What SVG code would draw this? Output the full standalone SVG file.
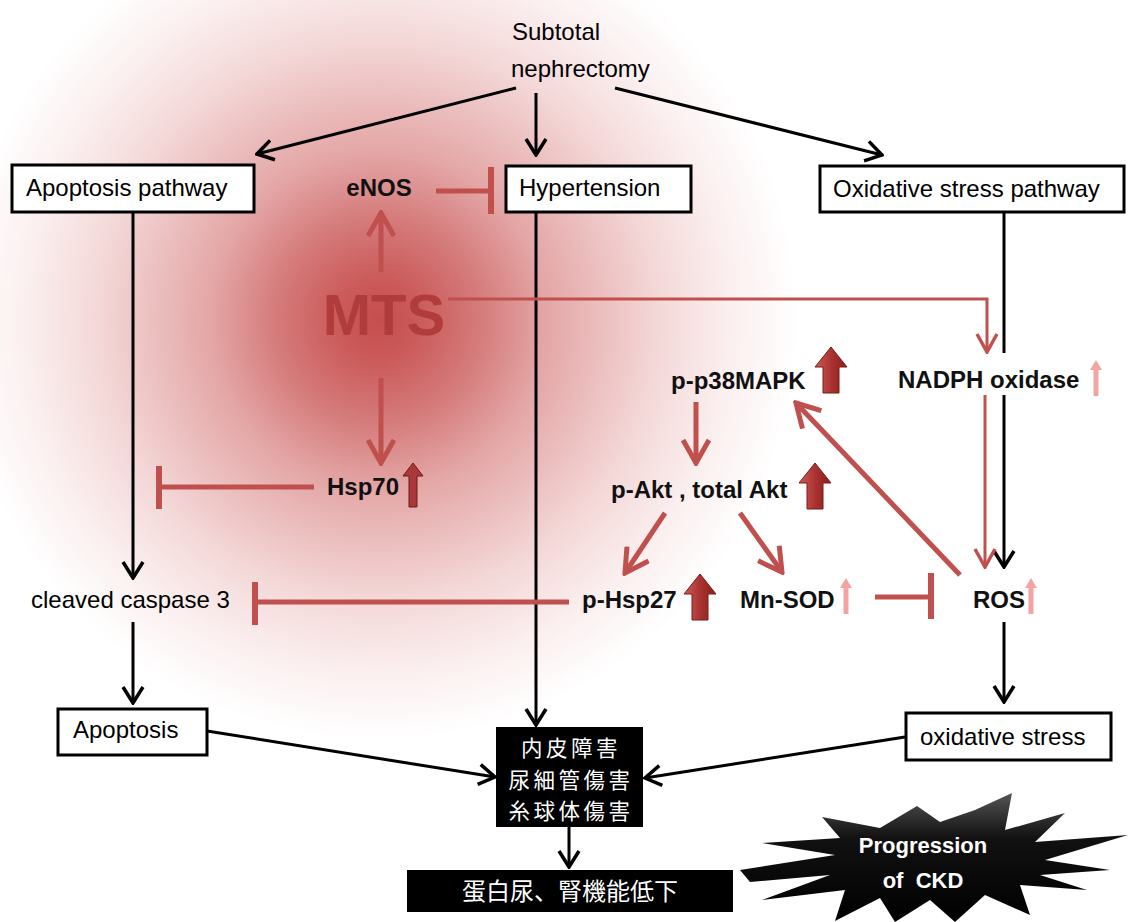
<svg xmlns="http://www.w3.org/2000/svg" width="1130" height="922" viewBox="0 0 1130 922">
  <style>
    .lbl { font-family: "Liberation Sans", Arial, sans-serif; font-size: 24px; fill: #000; }
    .bold { font-family: "Liberation Sans", Arial, sans-serif; font-size: 24px; font-weight: bold; fill: #111; }
    .box { fill: #fff; stroke: #000; stroke-width: 3; }
    .blk { fill: #000; }
    .cjk { font-family: "Noto Sans CJK JP", "Noto Sans CJK SC", sans-serif; font-size: 21.5px; letter-spacing: 3.5px; fill: #fff; text-anchor: middle; }
    .ca { stroke: #000; stroke-width: 3; fill: none; marker-end: url(#ah); }
    .ra { stroke: #c0504d; stroke-width: 5; fill: none; marker-end: url(#rh); }
    .rt { stroke: #c0504d; stroke-width: 3; fill: none; }
    .ri { stroke: #c0504d; stroke-width: 5; fill: none; }
    .bar { stroke: #c0504d; stroke-width: 6; fill: none; }
  </style>
  <defs>
    <radialGradient id="glow" gradientUnits="userSpaceOnUse" cx="378" cy="320" r="420">
      <stop offset="0" stop-color="#c64e4e"/>
      <stop offset="0.095" stop-color="#cb5a5a"/>
      <stop offset="0.24" stop-color="#d57a7a"/>
      <stop offset="0.4" stop-color="#e4a6a6"/>
      <stop offset="0.67" stop-color="#f4d8d8"/>
      <stop offset="0.84" stop-color="#fbefef"/>
      <stop offset="1" stop-color="#ffffff"/>
    </radialGradient>
    <linearGradient id="blockfill" x1="0" y1="0" x2="1" y2="0">
      <stop offset="0" stop-color="#cf5c5a"/>
      <stop offset="0.5" stop-color="#a93330"/>
      <stop offset="1" stop-color="#8a1e1c"/>
    </linearGradient>
    <linearGradient id="starfill" x1="0" y1="0" x2="0" y2="1">
      <stop offset="0" stop-color="#555"/>
      <stop offset="0.35" stop-color="#111"/>
      <stop offset="1" stop-color="#000"/>
    </linearGradient>
    <marker id="ah" markerUnits="userSpaceOnUse" viewBox="0 0 20 24" markerWidth="20" markerHeight="24" refX="18" refY="12" orient="auto">
      <path d="M2,2 L18,12 L2,22" fill="none" stroke="#000" stroke-width="3.5"/>
    </marker>
    <marker id="rh" markerUnits="userSpaceOnUse" viewBox="0 0 28 30" markerWidth="28" markerHeight="30" refX="25" refY="15" orient="auto">
      <path d="M2,2 L25,15 L2,28" fill="none" stroke="#c0504d" stroke-width="5"/>
    </marker>
    <marker id="rht" markerUnits="userSpaceOnUse" viewBox="0 0 22 24" markerWidth="22" markerHeight="24" refX="20" refY="12" orient="auto">
      <path d="M2,2 L20,12 L2,22" fill="none" stroke="#c0504d" stroke-width="3.5"/>
    </marker>
    <path id="block" d="M0,0 L16,20 L8,20 L8,46 L-8,46 L-8,20 L-16,20 Z" fill="url(#blockfill)" stroke="#7a1a18" stroke-width="1"/>
    <path id="pink" d="M0,0 L6,10 L2.5,10 L2.5,36 L-2.5,36 L-2.5,10 L-6,10 Z" fill="#f4a3a3"/>
    <path id="thin" d="M0,0 L10,13 L4,13 L4,44 L-4,44 L-4,13 L-10,13 Z" fill="#a8383a" stroke="#6e1a1a" stroke-width="1"/>
  </defs>

  <rect width="1130" height="922" fill="#fff"/>
  <circle cx="378" cy="320" r="420" fill="url(#glow)"/>

  <g id="connectors">
    <!-- black -->
    <line class="ca" x1="516" y1="88" x2="257" y2="154"/>
    <line class="ca" x1="536" y1="93" x2="536" y2="155"/>
    <line class="ca" x1="615" y1="88" x2="882" y2="155"/>
    <line class="ca" x1="133" y1="212" x2="133" y2="578"/>
    <line class="ca" x1="133" y1="622" x2="133" y2="703"/>
    <line class="ca" x1="536" y1="212" x2="536" y2="725"/>
    <line stroke="#000" stroke-width="3" x1="1004" y1="212" x2="1004" y2="353"/>
    <line class="ca" x1="1004" y1="395" x2="1004" y2="567"/>
    <line class="ca" x1="1004" y1="622" x2="1004" y2="702"/>
    <line class="ca" x1="207" y1="731" x2="495" y2="777"/>
    <line class="ca" x1="905" y1="737" x2="645" y2="778"/>
    <line class="ca" x1="569" y1="827" x2="569" y2="867"/>
    <!-- red activation -->
    <line class="ra" x1="381" y1="272" x2="381" y2="213"/>
    <line class="ra" x1="381" y1="378" x2="381" y2="463"/>
    <polyline class="rt" points="448,299 987,299 987,352" marker-end="url(#rht)"/>
    <line class="rt" x1="985" y1="395" x2="985" y2="567" marker-end="url(#rht)"/>
    <line class="ra" x1="696" y1="402" x2="696" y2="463"/>
    <line class="ra" x1="665" y1="513" x2="625" y2="573"/>
    <line class="ra" x1="740" y1="513" x2="782" y2="572"/>
    <line class="ra" x1="960" y1="575" x2="796" y2="403"/>
    <!-- red inhibition -->
    <line class="ri" x1="436" y1="191" x2="489" y2="191"/>
    <line class="bar" x1="491" y1="167" x2="491" y2="214"/>
    <line class="ri" x1="314" y1="487" x2="161" y2="487"/>
    <line class="bar" x1="159" y1="466" x2="159" y2="509"/>
    <line class="ri" x1="569" y1="602" x2="257" y2="602"/>
    <line class="bar" x1="255" y1="582" x2="255" y2="625"/>
    <line class="ri" x1="875" y1="597" x2="929" y2="597"/>
    <line class="bar" x1="931" y1="573" x2="931" y2="619"/>
  </g>

  <g id="subtotal-nephrectomy">
    <text class="lbl" x="512" y="40" font-size="26">Subtotal</text>
    <text class="lbl" x="511" y="77" font-size="25">nephrectomy</text>
  </g>
  <g id="apoptosis-pathway">
    <rect class="box" x="12" y="165" width="242" height="47"/>
    <text class="lbl" x="26" y="196">Apoptosis pathway</text>
  </g>
  <g id="hypertension">
    <rect class="box" x="506" y="166" width="185" height="46"/>
    <text class="lbl" x="519" y="196">Hypertension</text>
  </g>
  <g id="oxidative-stress-pathway">
    <rect class="box" x="820" y="166" width="304" height="46"/>
    <text class="lbl" x="833" y="197" font-size="24.5">Oxidative stress pathway</text>
  </g>
  <g id="enos">
    <text class="bold" x="379" y="196" text-anchor="middle" font-size="23">eNOS</text>
  </g>
  <g id="mts">
    <text x="384" y="335" text-anchor="middle" font-family="Liberation Sans, Arial, sans-serif" font-size="58" font-weight="bold" fill="#b03c3c">MTS</text>
  </g>
  <g id="hsp70">
    <text class="bold" x="327" y="495" font-size="22">Hsp70</text>
    <use href="#thin" x="413" y="463"/>
  </g>
  <g id="cleaved-caspase-3">
    <text class="lbl" x="31" y="608">cleaved caspase 3</text>
  </g>
  <g id="p-p38mapk">
    <text class="bold" x="671" y="389" font-size="23.5">p-p38MAPK</text>
    <use href="#block" x="831" y="347"/>
  </g>
  <g id="nadph-oxidase">
    <text class="bold" x="898" y="388">NADPH oxidase</text>
    <use href="#pink" x="1096" y="360"/>
  </g>
  <g id="p-akt">
    <text class="bold" x="611" y="498">p-Akt , total Akt</text>
    <use href="#block" x="815" y="463"/>
  </g>
  <g id="p-hsp27">
    <text class="bold" x="582" y="608" font-size="23">p-Hsp27</text>
    <use href="#block" x="700" y="574"/>
  </g>
  <g id="mn-sod">
    <text class="bold" x="740" y="608" font-size="23">Mn-SOD</text>
    <use href="#pink" x="846" y="578"/>
  </g>
  <g id="ros">
    <text class="bold" x="973" y="608" font-size="21">ROS</text>
    <use href="#pink" x="1031" y="578"/>
  </g>
  <g id="apoptosis">
    <rect class="box" x="58" y="709" width="149" height="46"/>
    <text class="lbl" x="73" y="738">Apoptosis</text>
  </g>
  <g id="oxidative-stress">
    <rect class="box" x="906" y="713" width="205" height="47"/>
    <text class="lbl" x="920" y="745">oxidative stress</text>
  </g>
  <g id="damage">
    <rect class="blk" x="496" y="727" width="147" height="100"/>
    <text class="cjk" x="571" y="756">内皮障害</text>
    <text class="cjk" x="571" y="787.5">尿細管傷害</text>
    <text class="cjk" x="571" y="819">糸球体傷害</text>
  </g>
  <g id="proteinuria">
    <rect class="blk" x="407" y="870" width="326" height="42"/>
    <text x="570" y="900" font-family="Noto Sans CJK JP, Noto Sans CJK SC, sans-serif" font-size="24" fill="#fff" text-anchor="middle">蛋白尿、腎機能低下</text>
  </g>
  <g id="progression-of-ckd">
    <polygon fill="url(#starfill)" points="740,870 835,855 762,843 840,838 822,817 880,828 917,806 940,822 975,810 1012,793 1005,830 1065,813 1035,842 1128,835 1045,860 1110,870 1040,875 1087,890 1020,885 1030,915 985,895 955,922 930,900 895,922 880,898 835,921 845,890 762,900 830,875 750,882"/>
    <text x="923" y="853" text-anchor="middle" font-family="Liberation Sans, Arial, sans-serif" font-size="22" font-weight="bold" fill="#fff">Progression</text>
    <text x="923" y="888" text-anchor="middle" font-family="Liberation Sans, Arial, sans-serif" font-size="22" font-weight="bold" fill="#fff" xml:space="preserve">of  CKD</text>
  </g>
</svg>
